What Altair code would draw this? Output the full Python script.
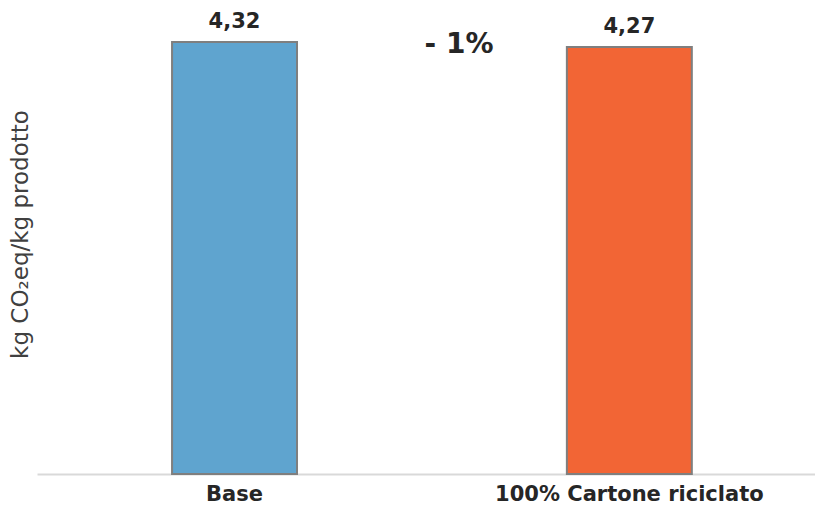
import altair as alt
import pandas as pd

categories = ["Base", "100% Cartone riciclato"]
values = [4.32, 4.27]
value_labels = ["4,32", "4,27"]
colors = ["#5FA4CF", "#F26535"]
delta_label = "- 1%"

df = pd.DataFrame({"cat": categories, "val": values, "lab": value_labels, "col": colors})

FONT = "DejaVu Sans"

x = alt.X("cat:N", sort=categories, title=None,
          scale=alt.Scale(paddingInner=0.6835, paddingOuter=0.327, align=0.523),
          axis=alt.Axis(labelAngle=0, labelFont=FONT, labelFontSize=21, labelFontWeight="bold",
                        labelColor="#262626", ticks=False, domainColor="#d9d9d9", domainWidth=2,
                        labelPadding=9, labelLimit=0, grid=False))
y = alt.Y("val:Q", scale=alt.Scale(domain=[0, 4.66], nice=False, zero=True),
          title="kg CO₂eq/kg prodotto",
          axis=alt.Axis(labels=False, ticks=False, domain=False, grid=False,
                        titleFont=FONT, titleFontSize=23, titleFontWeight="normal",
                        titleColor="#404040", titleAngle=-90, titleX=-17, titleY=226,
                        titleAlign="center", titleBaseline="middle"))

base = alt.Chart(df)

bars = base.mark_bar(stroke="#7f7f7f", strokeWidth=2).encode(
    x=x, y=y, color=alt.Color("col:N", scale=None)
)

texts = base.mark_text(baseline="bottom", dy=-10, font=FONT, fontSize=21,
                       fontWeight="bold", color="#262626").encode(
    x=alt.X("cat:N", sort=categories), y="val:Q", text="lab:N"
)

delta = alt.Chart(pd.DataFrame({"t": [delta_label]})).mark_text(
    font=FONT, fontSize=28, fontWeight="bold", color="#262626", baseline="middle", align="center"
).encode(x=alt.value(422), y=alt.value(37), text="t:N")

chart = alt.layer(bars, texts, delta).properties(
    width=778, height=466, background="white",
    autosize=alt.AutoSizeParams(type="none"),
    padding={"left": 29, "top": 0, "right": 0, "bottom": 32},
).configure_view(strokeWidth=0, stroke=None)

chart.save("out.html", embed_options={"renderer": "svg", "actions": False})
